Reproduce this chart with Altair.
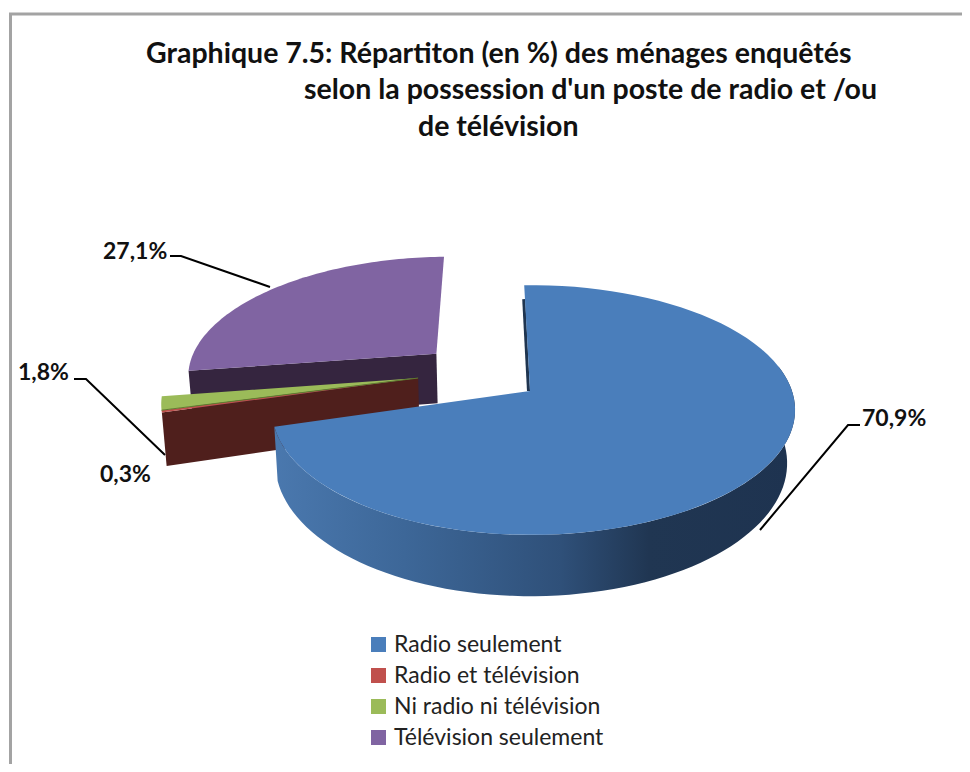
import math
import altair as alt

categories = ["Radio seulement", "Radio et télévision", "Ni radio ni télévision", "Télévision seulement"]
shares = [70.9, 0.3, 1.8, 27.1]
share_labels = ["70,9%", "0,3%", "1,8%", "27,1%"]
title_lines = ["Graphique 7.5: Répartiton (en %) des ménages enquêtés",
               "selon la possession d'un poste de radio et /ou",
               "de télévision"]
top_colors = ["#4a7ebb", "#c0504d", "#9bbb59", "#8064a2"]

# Perspective disc model of the tilted pie (pixels of the picture)
CX, CY, A_R, A_L, B, P, H, SHRINK_R, SHRINK_L = 530, 391, 262, 255, 122, 0.152, 52, 0.97, 0.987
START = -1.5
EXPLODE = [(0.0, 0.0), (-0.446, 0.108), (-0.446, 0.108), (-0.385, 0.321)]


def top(u, v):
    w = 1 + P * v
    return (CX + (A_R if u > 0 else A_L) * u / w, CY - B * v / w)


def bottom(u, v):
    w = 1 + P * v
    x, y = top(u, v)
    return (CX + (SHRINK_R if u > 0 else SHRINK_L) * (x - CX), y + H / w)


def rim(i, deg, fn):
    r = math.radians(deg)
    du, dv = EXPLODE[i]
    return fn(math.sin(r) + du, math.cos(r) + dv)


def arc(i, a0, a1, fn, n=80):
    return [rim(i, a0 + (a1 - a0) * k / n, fn) for k in range(n + 1)]


bounds = []
acc = START
for s in shares:
    bounds.append((acc, acc + s * 3.6))
    acc += s * 3.6


def feature(points, cat=None):
    ring = [list(p) for p in points] + [list(points[0])]
    return {"type": "Feature", "properties": {"cat": cat},
            "geometry": {"type": "Polygon", "coordinates": [ring]}}


def line(points):
    return {"type": "Feature", "properties": {},
            "geometry": {"type": "LineString", "coordinates": [list(p) for p in points]}}


def top_face(i):
    a0, a1 = bounds[i]
    du, dv = EXPLODE[i]
    return feature([top(du, dv)] + arc(i, a0, a1, top), categories[i])


def wall(i, a0, a1):
    return feature(arc(i, a0, a1, top) + arc(i, a1, a0, bottom))


def cut_wall(i, deg):
    du, dv = EXPLODE[i]
    return feature([top(du, dv), rim(i, deg, top), rim(i, deg, bottom), bottom(du, dv)])


color = alt.Color("properties.cat:N",
                  scale=alt.Scale(domain=categories, range=top_colors),
                  legend=alt.Legend(title=None, orient="none", legendX=359, legendY=625,
                                    symbolType="square", symbolSize=225, symbolStrokeWidth=0,
                                    labelFont="Lato", labelFontSize=23, labelColor="#222222",
                                    rowPadding=7, labelOffset=4, labelLimit=300))


def solid(features, fill):
    return alt.Chart(alt.Data(values=features)).mark_geoshape(fill=fill, stroke=None, strokeWidth=0)


def faces(i):
    return alt.Chart(alt.Data(values=[top_face(i)])).mark_geoshape(strokeWidth=0).encode(color=color)


def stroke(points, col="#000000", width=2):
    return alt.Chart(alt.Data(values=[line(points)])).mark_geoshape(
        filled=False, fill=None, stroke=col, strokeWidth=width)


blue_grad = {"gradient": "linear", "x1": 0, "y1": 0, "x2": 1, "y2": 0,
             "stops": [{"offset": 0, "color": "#4a78ae"}, {"offset": 0.25, "color": "#3d6798"},
                       {"offset": 0.55, "color": "#2f5079"}, {"offset": 0.72, "color": "#203652"},
                       {"offset": 1, "color": "#1e3350"}]}

start_rim = rim(0, bounds[0][0], top)
sliver = [(start_rim[0] - 0.5, start_rim[1] + 14), (CX - 1.5, CY)]

layers = [
    solid([cut_wall(3, bounds[3][0])], "#35253f"),
    faces(3),
    solid([cut_wall(1, bounds[1][0])], "#4f1f1c"),
    faces(1),
    faces(2),
    stroke([top(*EXPLODE[2]), rim(2, bounds[2][0], top)], "#5f7a30", 1),
    stroke(sliver, "#1f3550", 3),
    alt.Chart(alt.Data(values=[wall(0, 78, bounds[0][1])])).mark_geoshape(fill=blue_grad, strokeWidth=0),
    faces(0),
    stroke([(170, 256), (181, 256), (270, 287)]),
    stroke([(74, 379), (86, 379), (165, 455)]),
    stroke([(860, 425), (848, 425), (760, 530)]),
    stroke([(10.5, 772), (10.5, 14), (970, 14)], "#a3a3a3", 3),
]

label_rows = [{"t": share_labels[0], "x": 862, "y": 419},
              {"t": share_labels[1], "x": 100, "y": 475},
              {"t": share_labels[2], "x": 18, "y": 373},
              {"t": share_labels[3], "x": 103, "y": 252}]
title_rows = [{"t": title_lines[0], "x": 146, "y": 54},
              {"t": title_lines[1], "x": 304, "y": 90},
              {"t": title_lines[2], "x": 418, "y": 127}]

labels = alt.Chart(alt.Data(values=label_rows)).mark_text(
    font="Lato", fontSize=23, fontWeight="bold", align="left", baseline="middle", color="#111111"
).encode(longitude="x:Q", latitude="y:Q", text="t:N")
titles = alt.Chart(alt.Data(values=title_rows)).mark_text(
    font="Lato", fontSize=28.5, fontWeight="bold", align="left", baseline="middle", color="#111111"
).encode(longitude="x:Q", latitude="y:Q", text="t:N")

chart = alt.layer(*layers, labels, titles).project(
    type="identity", scale=1, translate=[-8, -8]
).properties(
    width=954, height=756, padding=0, autosize=alt.AutoSizeParams(type="none"),
    background="white"
).configure_view(stroke=None)

chart.save("out.html", embed_options={"renderer": "svg", "actions": False})
